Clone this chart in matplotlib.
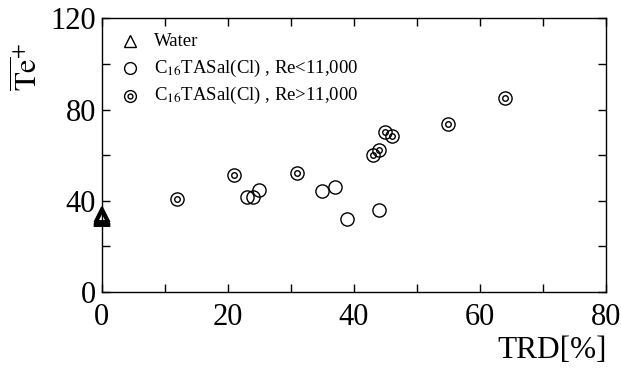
import matplotlib
matplotlib.use("Agg")
import matplotlib.pyplot as plt
from matplotlib.ticker import MultipleLocator

plt.rcParams['font.family'] = ['Liberation Serif', 'DejaVu Serif']
plt.rcParams['mathtext.fontset'] = 'stix'

# Data
water_x = [0, 0, 0, 0, 0]
water_y = [32.0, 32.5, 33.0, 33.5, 34.0]
low_x = [23, 24, 25, 35, 37, 39, 44]
low_y = [41.7, 41.7, 44.7, 44.4, 46.0, 32.0, 35.9]
high_x = [12, 21, 31, 43, 44, 45, 46, 55, 64]
high_y = [40.6, 51.2, 52.3, 59.9, 62.2, 70.1, 68.2, 73.6, 85.0]

fig = plt.figure(figsize=(6.21, 3.69), dpi=100)
ax = fig.add_axes([0.1638, 0.2087, 0.9754 - 0.1638, 0.9504 - 0.2087])

ms = 9.5
ax.plot(water_x, water_y, linestyle='none', marker='^', markersize=10,
        markerfacecolor='none', markeredgecolor='black', markeredgewidth=1.4, clip_on=False, zorder=5)
ax.plot(low_x, low_y, linestyle='none', marker='o', markersize=ms,
        markerfacecolor='none', markeredgecolor='black', markeredgewidth=1.0)
ax.plot(high_x, high_y, linestyle='none', marker='o', markersize=ms,
        markerfacecolor='none', markeredgecolor='black', markeredgewidth=1.0)
ax.plot(high_x, high_y, linestyle='none', marker='o', markersize=4,
        markerfacecolor='none', markeredgecolor='black', markeredgewidth=1.0)

ax.set_xlim(0, 80)
ax.set_ylim(0, 120)
ax.xaxis.set_major_locator(MultipleLocator(20))
ax.xaxis.set_minor_locator(MultipleLocator(10))
ax.yaxis.set_major_locator(MultipleLocator(40))
ax.yaxis.set_minor_locator(MultipleLocator(20))
ax.tick_params(which='both', direction='in', top=True, right=True, width=1.0, colors='black')
ax.tick_params(which='major', length=6, labelsize=22, pad=4)
ax.tick_params(which='minor', length=6)
ax.tick_params(axis='x', which='major', pad=8)
for s in ax.spines.values():
    s.set_linewidth(1.0)

fig.text(0.046, 0.82, r'$\overline{\mathrm{Te}}^{+}$', rotation=90, fontsize=22,
         ha='center', va='center')
fig.text(0.977, 0.049, 'TRD[%]', fontsize=22.5, ha='right', va='center')

# legend (manual)
lx_m, lx_t = 4.5, 8.3
rows = [110.0, 98.0, 86.0]
ax.plot([lx_m], [rows[0]], marker='^', markersize=9, markerfacecolor='none',
        markeredgecolor='black', markeredgewidth=1.0, linestyle='none')
ax.plot([lx_m], [rows[1]], marker='o', markersize=8.5, markerfacecolor='none',
        markeredgecolor='black', markeredgewidth=1.0, linestyle='none')
ax.plot([lx_m], [rows[2]], marker='o', markersize=8.5, markerfacecolor='none',
        markeredgecolor='black', markeredgewidth=1.0, linestyle='none')
ax.plot([lx_m], [rows[2]], marker='o', markersize=3.5, markerfacecolor='none',
        markeredgecolor='black', markeredgewidth=1.0, linestyle='none')
labels = ['Water', r'C$_{16}$TASal(Cl) , Re<11,000', r'C$_{16}$TASal(Cl) , Re>11,000']
for y, t in zip(rows, labels):
    ax.text(lx_t, y, t, fontsize=13.5, va='center', ha='left')

fig.savefig('out.png', dpi=100)
